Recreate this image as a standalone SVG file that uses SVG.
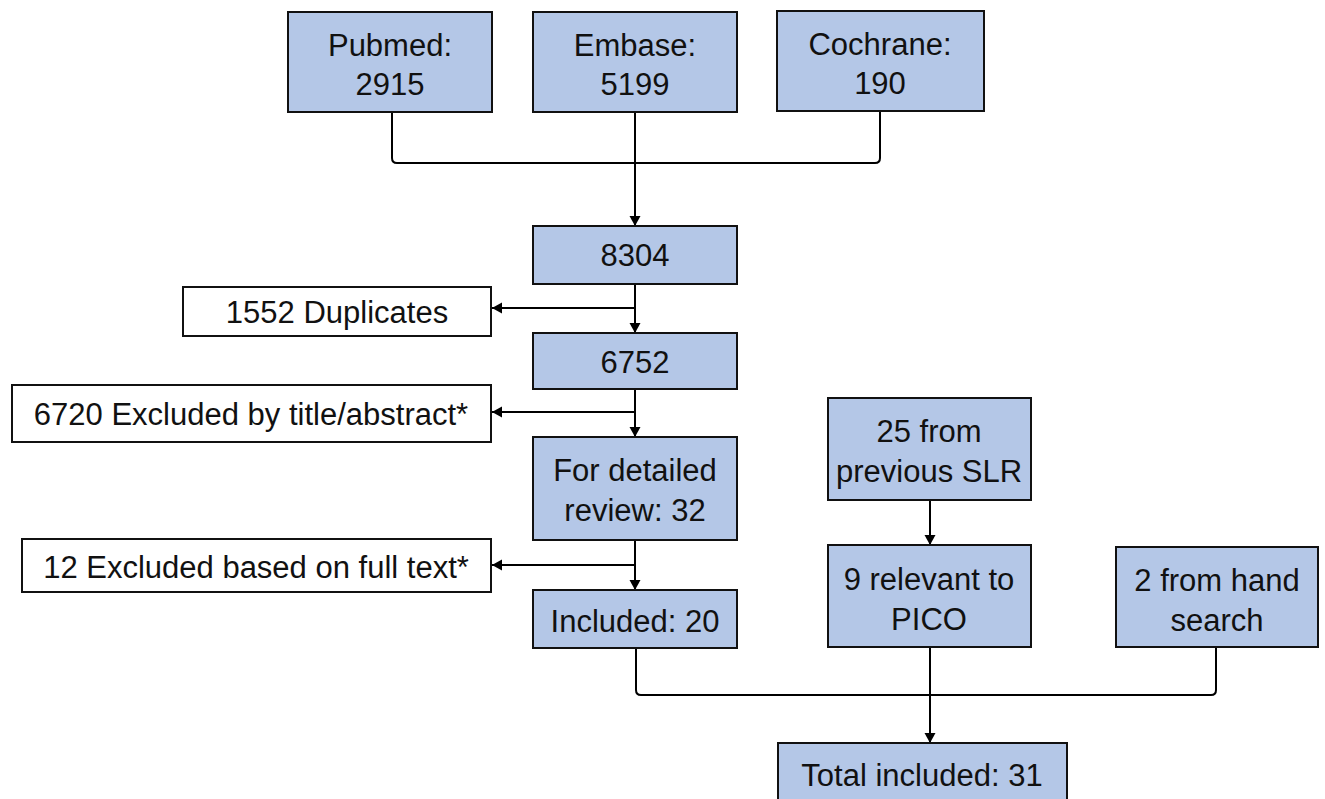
<svg xmlns="http://www.w3.org/2000/svg" width="1325" height="799" viewBox="0 0 1325 799">
<style>
.b{fill:#B4C7E7;stroke:#111;stroke-width:2}
.w{fill:#fff;stroke:#111;stroke-width:2}
text{font-family:"Liberation Sans",Arial,sans-serif;font-size:31px;fill:#111;text-anchor:middle}
.c{fill:none;stroke:#000;stroke-width:2}
</style>
<defs>
<marker id="ah" markerWidth="10" markerHeight="12" refX="10" refY="5.5" orient="auto" markerUnits="userSpaceOnUse">
<path d="M0,0 L10,5.5 L0,11 z" fill="#000"/>
</marker>
</defs>
<rect width="1325" height="799" fill="#fff"/>
<g id="connectors">
<path class="c" d="M392,113 V158 Q392,163 397,163 H875 Q880,163 880,158 V111"/>
<path class="c" d="M635,113 V226" marker-end="url(#ah)"/>
<path class="c" d="M635,285 V333" marker-end="url(#ah)"/>
<path class="c" d="M635,308 H492" marker-end="url(#ah)"/>
<path class="c" d="M635,389 V437" marker-end="url(#ah)"/>
<path class="c" d="M635,412 H492" marker-end="url(#ah)"/>
<path class="c" d="M635,541 V590" marker-end="url(#ah)"/>
<path class="c" d="M635,565 H492" marker-end="url(#ah)"/>
<path class="c" d="M930,500 V545" marker-end="url(#ah)"/>
<path class="c" d="M636,648 V690 Q636,695 641,695 H1211 Q1216,695 1216,690 V647"/>
<path class="c" d="M930,647 V743" marker-end="url(#ah)"/>
</g>
<g id="pubmed"><rect class="b" x="288" y="12" width="204" height="100"/><text x="390" y="56">Pubmed:</text><text x="390" y="95">2915</text></g>
<g id="embase"><rect class="b" x="533" y="12" width="204" height="100"/><text x="635" y="56">Embase:</text><text x="635" y="95">5199</text></g>
<g id="cochrane"><rect class="b" x="777" y="11" width="207" height="100"/><text x="880" y="55">Cochrane:</text><text x="880" y="94">190</text></g>
<g id="n8304"><rect class="b" x="533" y="226" width="204" height="58"/><text x="635" y="266">8304</text></g>
<g id="duplicates"><rect class="w" x="183" y="287" width="308" height="49"/><text x="337" y="323">1552 Duplicates</text></g>
<g id="n6752"><rect class="b" x="533" y="333" width="204" height="56"/><text x="635" y="373">6752</text></g>
<g id="excl-title"><rect class="w" x="12" y="385" width="479" height="57"/><text x="251" y="425">6720 Excluded by title/abstract*</text></g>
<g id="detailed"><rect class="b" x="533" y="437" width="204" height="103"/><text x="635" y="481">For detailed</text><text x="635" y="521">review: 32</text></g>
<g id="excl-full"><rect class="w" x="22" y="539" width="469" height="53"/><text x="256" y="578">12 Excluded based on full text*</text></g>
<g id="included"><rect class="b" x="533" y="590" width="204" height="58"/><text x="635" y="632">Included: 20</text></g>
<g id="prev-slr"><rect class="b" x="828" y="398" width="203" height="102"/><text x="929" y="442">25 from</text><text x="929" y="482">previous SLR</text></g>
<g id="pico"><rect class="b" x="828" y="545" width="203" height="102"/><text x="929" y="590">9 relevant to</text><text x="929" y="630">PICO</text></g>
<g id="hand"><rect class="b" x="1116" y="547" width="202" height="100"/><text x="1217" y="591">2 from hand</text><text x="1217" y="631">search</text></g>
<g id="total"><rect class="b" x="778" y="743" width="289" height="60"/><text x="922" y="786">Total included: 31</text></g>
</svg>
